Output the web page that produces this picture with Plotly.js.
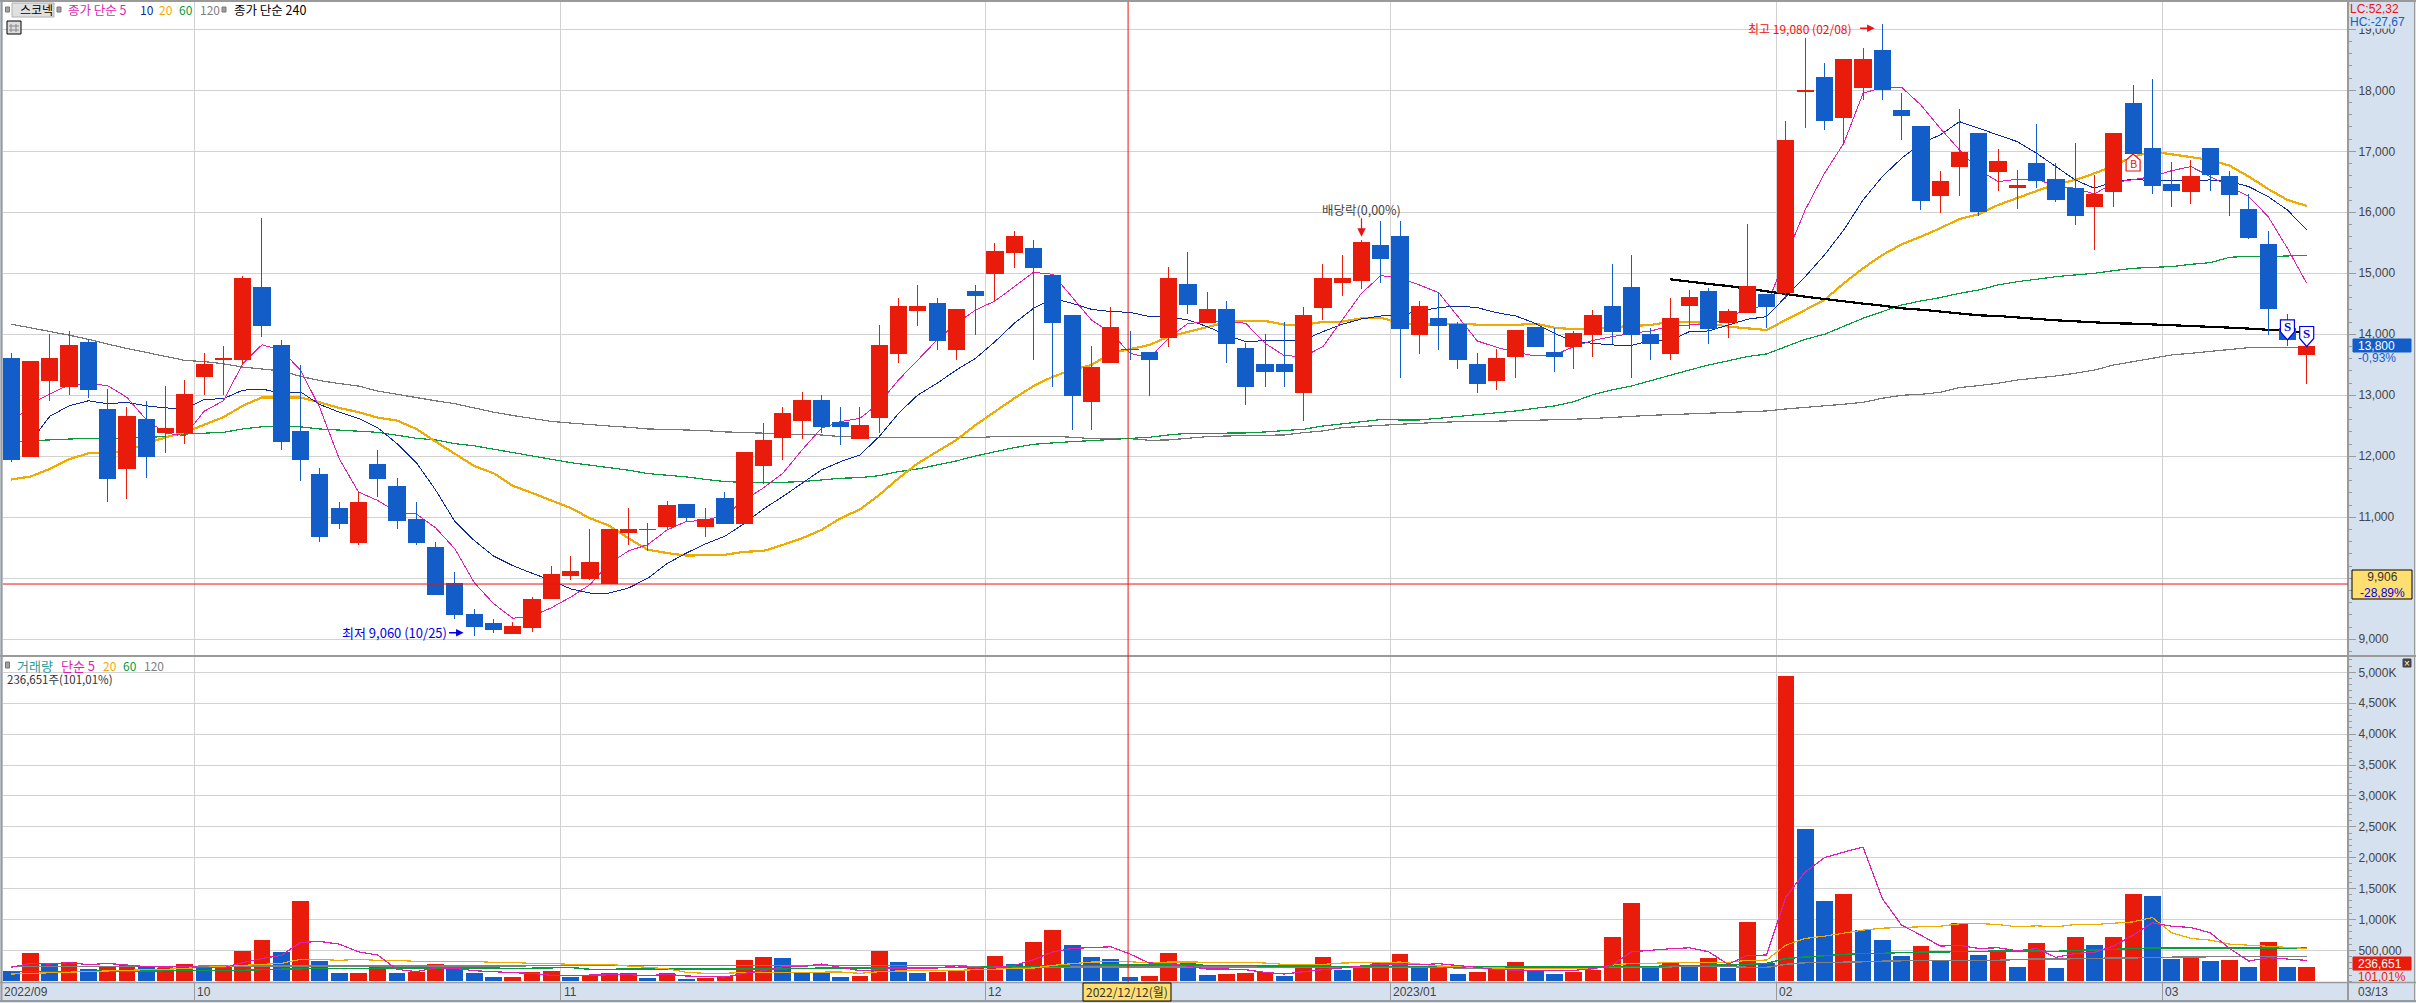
<!DOCTYPE html>
<html>
<head>
<meta charset="utf-8">
<script src="https://cdn.plot.ly/plotly-3.0.1.min.js"></script>
<style>html,body{margin:0;padding:0;background:#fff;overflow:hidden}#chart{width:2416px;height:1003px}
.scatterlayer .js-line,.boxlayer path,.barlayer path{shape-rendering:crispEdges}</style>
</head>
<body>
<div id="chart"></div>
<script>
// ---- candle data, one entry per trading day ----
const opens = [13600,12000,13240,13150,13860,12765,11800,12600,12385,12385,13300,13590,13585,14765,13815,12400,11700,11150,10590,11860,11500,10960,10500,9910,9400,9262,9103,9200,9675,10050,10000,9910,10752,10800,10855,11207,10855,11300,10900,11855,12300,12579,12907,12547,12284,12629,13678,14382,14497,13743,14694,14989,15333,15399,14956,14300,12891,13530,13754,13694,13940,14809,14186,14399,13760,13497,13497,13038,14432,14841,14890,15448,15596,13989,14251,14153,13497,13235,13628,14104,13694,13792,13989,14448,14759,14000,13678,14464,14694,14186,14350,14645,14678,17980,18202,17546,18054,18645,17677,17399,16268,16743,17300,16677,16399,16792,16530,16382,16087,16333,17776,17054,16448,16333,17054,16595,16038,15464,14100,13670];
const highs = [13690,13550,14000,14060,13930,13100,12810,12910,13160,13255,13690,13815,14950,15910,13900,13500,11800,11250,11410,12100,11640,11250,10590,10110,9490,9340,9290,9700,10207,10358,10814,10807,11160,10900,11260,11207,11160,11407,12062,12550,12810,13055,13005,12809,12809,14153,14596,14809,14596,14399,14809,15497,15694,15546,14956,14300,13809,14448,14055,13694,15104,15350,14694,14546,13863,14005,14197,14448,15153,15300,15546,15858,15858,14546,14688,14202,13694,13760,14055,14104,14104,14055,14398,15153,15300,14100,14596,14727,14759,14415,15809,14645,17497,18857,18448,18497,18694,19080,17956,17415,16677,17694,17300,17038,16694,17448,16803,17136,16612,17300,18087,18186,16825,16858,17054,16677,16300,15694,14340,13800];
const lows = [11900,12000,12900,13000,12950,11250,11300,11640,12050,12200,13000,13000,13490,13950,12100,11590,10590,10800,10540,11330,10800,10540,9720,9330,9060,9110,9090,9117,9675,9980,9965,9910,10545,10450,10807,10945,10670,10900,10900,11545,11945,12290,12377,12186,12284,12377,13530,14137,13743,13579,13989,14546,15087,13579,13137,12432,12432,13530,13579,12989,13792,14333,14186,13530,12842,13137,13137,12579,14235,14628,14743,14841,13284,13678,13743,13432,13038,13087,13284,13792,13383,13432,13633,13842,13290,13579,13579,14087,13842,13940,14350,14104,14579,17382,17350,17120,17841,17841,17186,16038,15989,16268,15940,16350,16054,16393,16170,15792,15382,16087,16956,16300,16087,16136,16350,15940,15563,13989,13810,13186];
const closes = [11950,13550,13600,13810,13100,11640,12650,12000,12455,13015,13500,13600,14910,14150,12250,11950,10690,10900,11250,11640,10950,10590,9740,9400,9213,9165,9207,9655,10060,10110,10255,10807,10807,10807,11200,10993,10960,10900,12062,12255,12700,12907,12481,12481,12497,13809,14448,14448,13891,14399,14628,15350,15596,15087,14186,12989,13448,14104,13743,13579,14907,14481,14399,13842,13137,13383,13383,14300,14907,14907,15497,15235,14087,14448,14137,13579,13186,13596,14055,13792,13628,14005,14300,14044,13989,13842,14251,14596,14087,14366,14776,14448,17169,17989,17513,18497,18513,18021,17579,16186,16497,16973,16005,16825,16432,16514,16202,15940,16300,17300,16956,16432,16350,16595,16612,16300,15579,14415,13907,13800];

// ---- price moving averages ----
const ma5 = [12517,12862,13021,13172,13193,13159,12965,12600,12379,12338,12738,12910,13517,13828,13738,13414,12793,11965,11414,11276,11083,11055,10827,10483,9931,9586,9345,9379,9517,9690,9896,10241,10448,10552,10793,10931,10952,11034,11276,11483,11722,12104,12459,12568,12623,12869,13251,13579,13907,14180,14399,14546,14781,15016,14983,14617,14235,14027,13689,13607,13934,14180,14191,14213,14180,13852,13650,13634,13798,14235,14672,14962,14918,14809,14683,14290,13891,13787,13705,13645,13661,13798,13900,13962,14016,14055,14137,14153,14153,14262,14426,14464,15273,16038,16639,17131,17950,18049,18049,17759,17377,17022,16694,16503,16541,16541,16432,16393,16300,16486,16530,16585,16683,16749,16585,16421,16257,15929,15410,14836];
const ma10 = [null,12241,12655,12828,12910,12862,12883,12828,12793,12779,12931,12945,13083,13103,13034,13055,12848,12724,12621,12469,12207,11896,11448,10931,10621,10365,10207,10083,9965,9827,9758,9758,9841,10000,10241,10414,10565,10690,10896,11138,11339,11558,11776,11913,12022,12323,12705,13005,13197,13415,13607,13880,14180,14426,14590,14508,14410,14372,14361,14290,14290,14235,14126,13989,13880,13896,13896,13907,14044,14164,14251,14300,14317,14372,14437,14464,14437,14355,14300,14180,14016,13880,13852,13825,13820,13896,13896,14044,14055,14153,14246,14290,14617,14945,15300,15710,16202,16585,16885,17131,17268,17486,17377,17268,17158,16967,16749,16530,16393,16503,16541,16519,16519,16519,16530,16503,16421,16257,16038,15710];
const ma20 = [11620,11669,11793,11952,12048,12048,12090,12207,12310,12393,12517,12641,12828,12965,12965,12965,12883,12793,12724,12634,12586,12448,12241,12034,11841,11724,11517,11400,11276,11152,10986,10862,10655,10469,10414,10372,10379,10386,10434,10448,10547,10656,10793,10984,11131,11366,11640,11885,12077,12268,12514,12732,12951,13153,13306,13415,13497,13689,13760,13825,13962,14044,14126,14197,14224,14219,14158,14158,14202,14208,14262,14273,14180,14153,14169,14175,14158,14153,14153,14175,14109,14082,14098,14115,14137,14153,14208,14208,14180,14126,14098,14071,14235,14399,14563,14836,15082,15300,15475,15601,15738,15891,15967,16120,16240,16350,16459,16530,16639,16765,16912,16994,16951,16901,16858,16765,16585,16382,16202,16104];
const ma60 = [12241,12255,12276,12290,12296,12296,12296,12310,12324,12365,12379,12393,12448,12483,12483,12483,12448,12428,12407,12393,12345,12296,12269,12207,12172,12117,12055,12000,11945,11896,11855,11814,11772,11717,11690,11662,11621,11586,11572,11565,11574,11585,11612,11640,11650,11683,11749,11793,11858,11924,12006,12077,12142,12197,12224,12241,12257,12279,12290,12312,12350,12377,12377,12377,12383,12399,12415,12443,12497,12530,12568,12601,12596,12596,12623,12650,12678,12705,12743,12787,12825,12896,13010,13088,13153,13240,13333,13415,13497,13568,13634,13678,13798,13918,14000,14137,14262,14372,14481,14546,14601,14672,14727,14809,14863,14902,14945,14973,15000,15044,15082,15098,15109,15147,15175,15262,15279,15273,15284,15295];
const ma120 = [14166,14110,14048,13986,13917,13841,13766,13703,13634,13572,13552,13517,13462,13428,13400,13310,13241,13193,13152,13069,13014,12965,12910,12862,12793,12724,12669,12621,12572,12545,12517,12496,12476,12448,12441,12434,12421,12400,12393,12379,12365,12359,12350,12322,12312,12312,12312,12312,12312,12312,12306,12322,12328,12328,12328,12312,12290,12290,12290,12262,12268,12295,12322,12333,12339,12344,12350,12388,12415,12470,12492,12508,12525,12541,12557,12568,12568,12574,12585,12590,12601,12607,12620,12639,12650,12672,12683,12694,12705,12721,12732,12743,12776,12798,12825,12853,12885,12951,13000,13016,13049,13126,13159,13197,13251,13279,13317,13361,13415,13497,13552,13607,13661,13689,13716,13754,13781,13787,13787,13787];
const ma240Start = 86;
const ma240 = [14902,14858,14825,14792,14749,14694,14656,14617,14579,14535,14503,14470,14426,14404,14372,14339,14311,14300,14273,14246,14229,14213,14191,14180,14175,14164,14153,14142,14126,14109,14093,14071,14055,14016];

// ---- volume, thousands of shares; 1 = red bar, 0 = blue bar ----
const volume = [167,457,290,312,199,247,263,226,220,280,226,242,489,667,473,1296,328,134,134,247,134,156,280,231,134,70,70,150,167,70,97,134,134,54,134,38,54,86,344,392,376,140,140,75,91,495,317,140,156,177,226,414,285,640,833,591,398,366,75,91,462,301,108,124,140,156,91,237,398,188,237,317,446,220,237,124,156,204,317,172,124,156,188,715,1263,231,301,226,376,215,957,301,4941,2457,1296,1409,833,667,409,570,344,941,425,489,231,618,215,715,586,715,1409,1376,360,392,328,344,231,634,231,236.651];
const volumeUp = [0,1,0,1,0,1,1,0,1,1,0,1,1,1,0,1,0,0,1,1,0,1,1,0,0,0,1,1,1,0,1,1,1,0,1,0,1,1,1,1,0,0,0,0,1,1,0,0,1,1,1,1,0,1,1,0,0,0,0,1,1,0,0,1,1,1,0,1,1,0,1,1,1,0,1,0,1,1,1,0,0,1,1,1,1,0,1,0,1,0,1,0,1,0,0,1,0,0,0,1,0,1,0,1,0,1,0,1,0,1,1,0,0,1,0,1,0,1,0,1];
const vol5 = [226,290,280,301,269,290,263,237,231,237,226,220,301,371,419,629,645,602,478,425,194,156,220,210,172,151,140,129,97,97,97,108,108,91,113,86,75,70,129,172,237,237,280,226,172,188,215,215,215,253,215,231,258,349,478,532,543,559,441,296,290,242,199,199,188,145,118,156,188,215,247,280,280,269,285,258,226,188,177,177,177,177,204,263,478,505,527,543,478,274,419,425,1366,1769,2000,2091,2172,1339,909,747,570,581,532,543,495,532,387,452,468,575,747,946,892,871,785,532,328,382,360,339];
const vol20 = [118,129,145,156,167,172,183,188,194,210,226,237,258,274,290,355,355,339,355,339,339,323,323,323,323,306,306,290,290,274,274,274,247,226,204,145,129,129,145,145,145,145,150,150,129,156,167,167,167,177,188,199,210,215,258,280,312,317,317,296,312,312,312,312,306,296,274,274,274,296,296,306,312,280,247,242,221,215,215,210,210,204,199,263,290,290,306,306,306,306,339,344,586,694,731,785,828,860,866,882,892,930,935,919,882,898,882,919,919,946,962,1032,785,694,667,602,586,564,559,532];
const vol60 = [156,156,161,161,161,167,167,167,172,172,172,177,177,188,199,210,210,210,210,210,210,210,215,220,220,215,204,215,226,226,194,194,194,194,194,194,194,194,194,194,204,204,215,215,215,215,215,226,226,226,226,231,237,242,247,263,263,263,263,263,263,263,263,263,258,247,247,247,247,237,237,237,237,237,237,231,231,226,226,226,226,226,226,231,237,237,253,253,258,263,274,290,371,392,425,435,452,452,468,468,473,484,489,489,489,489,484,500,505,516,532,543,543,543,543,532,532,543,543,543];
const vol120 = [237,237,237,237,226,226,226,226,231,237,247,247,247,247,253,253,258,258,258,258,258,258,258,258,258,258,258,258,258,258,258,258,258,258,258,258,258,258,258,258,258,258,258,258,258,258,258,258,258,258,231,231,231,231,231,231,231,231,231,231,231,231,231,231,231,231,231,231,231,231,231,231,231,231,231,215,215,215,215,215,215,215,215,220,231,231,242,242,242,242,226,226,274,301,301,306,317,323,333,339,339,339,339,339,355,355,366,366,371,376,387,387,398,403,403,403,403,403,403,403];

// ---- axis labels ----
const priceTicks = [9000,10000,11000,12000,13000,14000,15000,16000,17000,18000,19000];
const priceTickText = ['9,000','10,000','11,000','12,000','13,000','14,000','15,000','16,000','17,000','18,000','19,000'];
const volumeTicks = [500,1000,1500,2000,2500,3000,3500,4000,4500,5000];
const volumeTickText = ['500,000','1,000K','1,500K','2,000K','2,500K','3,000K','3,500K','4,000K','4,500K','5,000K'];
const monthTicks = [9.5,28.5,50.5,71.5,91.5,111.5];
const monthLabels = ['10','11','12','2023/01','02','03'];
const crosshairDay = 57.9;
const crosshairPrice = 9906;

// ---- colours and page geometry ----
const RED='#e91b0b', BLUE='#125dc8', BAND='#d6e1ef', GRID='#d2d2d2', EDGE='#9a9a9a', YEL='#ffdf70';
const C5='#e01fb0', C10='#0b2aa0', C20='#f0ab00', C60='#0a9a40', C120='#808080';
const LAT='"Liberation Sans",sans-serif';
const KR='"Noto Sans CJK KR","Noto Sans",sans-serif';
const W=2416,H=1003,ML=3,MR=68,MT=2,MB=21;
const X=px=>(px-ML)/(W-ML-MR), Y=py=>(H-MB-py)/(H-MT-MB);
const idx=volume.map((_,i)=>i);

function line(y,color,width,yaxis,x){return {type:'scatter',mode:'lines',x:x||idx,y:y,yaxis:yaxis,xaxis:'x',
  line:{color:color,width:width,shape:'linear'},hoverinfo:'skip',showlegend:false,connectgaps:false};}

const traces=[
  line(ma120,'#777777',1.2,'y'),
  line(ma60,C60,1.2,'y'),
  line(ma20,C20,2.2,'y'),
  line(ma10,C10,1,'y'),
  line(ma5,C5,1,'y'),
  line(ma240,'#000000',2.2,'y',ma240.map((_,i)=>i+ma240Start)),
  {type:'candlestick',x:idx,open:opens,high:highs,low:lows,close:closes,xaxis:'x',yaxis:'y3',whiskerwidth:0,
   increasing:{line:{color:RED,width:1},fillcolor:RED},decreasing:{line:{color:BLUE,width:1},fillcolor:BLUE},
   hoverinfo:'skip',showlegend:false},
  {type:'bar',x:idx,y:volume,xaxis:'x',yaxis:'y2',width:0.87,marker:{color:volumeUp.map(u=>u?RED:BLUE),line:{width:0}},hoverinfo:'skip',showlegend:false},
  line(vol120,C120,1.5,'y2'),
  line(vol60,C60,1.5,'y2'),
  line(vol20,C20,1.2,'y2'),
  line(vol5,C5,1.2,'y2')
];

// ---- texts ----
function label(px,py,text,color,size,extra){return Object.assign({xref:'paper',yref:'paper',x:X(px),y:Y(py),text:text,showarrow:false,
  xanchor:'left',yanchor:'middle',borderpad:0,align:'left',font:{family:KR,size:size||12,color:color}},extra||{});}
function lat(px,py,text,color,extra){return label(px,py,text,color,12,Object.assign({font:{family:LAT,size:12,color:color}},extra||{}));}
const anns=[
  label(19,10,'스코넥','#000',12),
  label(67,10,'종가 단순 5',C5,12.5),label(139,10,'10',C10,12),label(158,10,'20',C20,12),label(178,10,'60',C60,12),label(199,10,'120',C120,12),
  label(233,10,'종가 단순 240','#000',12.5),
  label(16,665,'거래량','#2a9a98',13),label(60,665,'단순 5',C5,13),label(102,665,'20',C20,12),label(122,665,'60',C60,12),label(143,665,'120',C120,12),
  label(6,679,'236,651주(101,01%)','#333',11.5),
  lat(3,992,'2022/09','#444'),
  lat(2349,9,'LC:52,32','#ee1111',{bgcolor:BAND,width:60,height:12}),
  lat(2349,21,'HC:-27,67',BLUE,{bgcolor:BAND,width:62,height:13}),
  lat(2357,345.5,'13,800','#fff'),
  lat(2357,358,'-0,93%',BLUE),
  lat(2382,584.5,'9,906<br><span style="color:#0000ee">-28,89%</span>','#333',{xanchor:'center',align:'center'}),
  lat(2357,963.5,'236,651','#fff'),
  lat(2357,977,'101,01%',RED),
  lat(2357,992,'03/13','#444'),
  lat(1127,992,'2022/12/12(월)','#333',{xanchor:'center',font:{family:KR,size:12,color:'#333'}}),
  lat(2407,663,'×','#fff',{xanchor:'center',font:{family:LAT,size:10,color:'#fff'}}),
  // high, low and dividend call-outs sit on the data scale
  {xref:'x',yref:'y',x:95.55,y:19017,text:'최고 19,080 (02/08)',showarrow:false,xanchor:'right',yanchor:'middle',font:{family:KR,size:12,color:'#ee1111'}},
  {xref:'x',yref:'y',x:96.6,y:19017,text:'',showarrow:true,ax:-16,ay:0,arrowcolor:'#ee1111',arrowwidth:1.5,arrowhead:2,arrowsize:1},
  {xref:'x',yref:'y',x:22.7,y:9107,text:'최저 9,060 (10/25)',showarrow:false,xanchor:'right',yanchor:'middle',font:{family:KR,size:13,color:'#0000ee'}},
  {xref:'x',yref:'y',x:23.45,y:9107,text:'',showarrow:true,ax:-16,ay:0,arrowcolor:'#0000ee',arrowwidth:1.5,arrowhead:2,arrowsize:1},
  {xref:'x',yref:'y',x:70,y:16050,text:'배당락(0,00%)',showarrow:false,xanchor:'center',yanchor:'middle',font:{family:KR,size:12.5,color:'#444'}},
  {xref:'x',yref:'y',x:70,y:15600,text:'',showarrow:true,ax:0,ay:-20,arrowcolor:'#ee1111',arrowwidth:1.2,arrowhead:2,arrowsize:1.4},
  {xref:'x',yref:'y',x:110,y:16956,yshift:-9,text:'B',showarrow:false,font:{family:KR,size:11,color:'#ee1111'}},
  {xref:'x',yref:'y',x:118,y:13907,yshift:13,text:'<b>S</b>',showarrow:false,font:{family:'"Liberation Serif",serif',size:13,color:'#0000ee'}},
  {xref:'x',yref:'y',x:119,y:13800,yshift:13,text:'<b>S</b>',showarrow:false,font:{family:'"Liberation Serif",serif',size:13,color:'#0000ee'}}
];
monthTicks.forEach((m,i)=>anns.push({xref:'x',yref:'paper',x:m,y:Y(992),text:monthLabels[i],showarrow:false,xanchor:'left',yanchor:'middle',xshift:1,font:{family:LAT,size:12,color:'#444'}}));

// ---- frame, crosshair, small icons, trade-signal badges ----
const edge=(x0,y0,x1,y1,c,w)=>({type:'line',xref:'paper',yref:'paper',x0:X(x0),y0:Y(y0),x1:X(x1),y1:Y(y1),line:{color:c||EDGE,width:w||1},layer:'above'});
const box=(x0,y0,x1,y1,fill,c)=>({type:'rect',xref:'paper',yref:'paper',x0:X(x0),y0:Y(y0),x1:X(x1),y1:Y(y1),fillcolor:fill,line:{color:c,width:1},layer:'above'});
const badge=(day,price,path,c)=>({type:'path',xref:'x',yref:'y',xsizemode:'pixel',ysizemode:'pixel',xanchor:day,yanchor:price,path:path,fillcolor:'#fff',line:{color:c,width:1.2},layer:'above'});
const shapes=[
  edge(0,1,W,1,EDGE,2), edge(1.5,1,1.5,1001,EDGE,2), edge(0,656,2416,656,EDGE,2),
  edge(0,982.5,2416,982.5,EDGE,1.5), edge(0,1001,2416,1001,EDGE,2),
  edge(2348,1,2348,1001,EDGE,2), edge(2414.5,1,2414.5,1001,EDGE,1),
  {type:'line',xref:'x',yref:'paper',x0:crosshairDay,x1:crosshairDay,y0:0,y1:1,line:{color:'#ee1111',width:1},layer:'above'},
  {type:'line',xref:'paper',yref:'y',x0:0,x1:1,y0:crosshairPrice,y1:crosshairPrice,line:{color:'#ee1111',width:1},layer:'above'},
  box(12,3,54,17,'#e0e0e0','#b0b0b0'),
  box(5.5,7,9.5,12,'#a0a0a0','#777'), box(57,7,61,12,'#a0a0a0','#777'), box(222,7,226,12,'#a0a0a0','#777'),
  box(5.5,662,9.5,668,'#a0a0a0','#777'),
  box(7,21,21,34,'#dddddd','#000'), edge(11,24,11,32,'#888'), edge(16,24,16,32,'#888'), edge(9,26,19,26,'#888'), edge(9,30,19,30,'#888'),
  box(2353,339,2411,352,BLUE,BLUE),
  box(2352,570,2412,599,YEL,'#000'),
  box(2353,957,2411,970,RED,RED),
  box(1083,983,1171,1001,YEL,'#000'),
  box(2403,659,2411,667,'#444','#444'),
  badge(110,16956,'M 0 0 L -7 -6 L -7 -17 L 7 -17 L 7 -6 Z','#ee1111'),
  badge(118,13907,'M 0 0 L -7 8 L -7 20 L 7 20 L 7 8 Z','#0000ee'),
  badge(119,13800,'M 0 0 L -7 8 L -7 20 L 7 20 L 7 8 Z','#0000ee')
];

const layout={
  width:W,height:H,margin:{l:ML,r:MR,t:MT,b:MB,pad:0},paper_bgcolor:BAND,plot_bgcolor:'#fff',showlegend:false,hovermode:false,
  boxgap:0.16,boxgroupgap:0,bargap:0.13,dragmode:false,
  xaxis:{anchor:'y2',domain:[0,1],range:[-0.425,121.14],fixedrange:true,tickmode:'array',tickvals:monthTicks,ticktext:monthLabels.map(()=>''),
    ticks:'outside',ticklen:19,tickcolor:EDGE,tickwidth:1,showgrid:true,gridcolor:GRID,gridwidth:1,zeroline:false,showline:false,rangeslider:{visible:false}},
  yaxis:{domain:[0.33265,1],range:[8726,19447.5],side:'right',anchor:'x',fixedrange:true,tickmode:'array',tickvals:priceTicks,ticktext:priceTickText,
    ticks:'outside',ticklen:7,tickcolor:EDGE,tickwidth:1,showgrid:true,gridcolor:GRID,gridwidth:1,zeroline:false,showline:false,
    tickfont:{family:LAT,size:12,color:'#444'},minor:{tickmode:'linear',dtick:200,tick0:0,ticks:'outside',ticklen:3,tickcolor:EDGE,showgrid:false}},
  yaxis3:{overlaying:'y',range:[8726,19447.5],side:'right',anchor:'x',visible:false,fixedrange:true,showgrid:false,zeroline:false},
  yaxis2:{domain:[0,0.33265],range:[-11,5264],side:'right',anchor:'x',fixedrange:true,tickmode:'array',tickvals:volumeTicks,ticktext:volumeTickText,
    ticks:'outside',ticklen:7,tickcolor:EDGE,tickwidth:1,showgrid:true,gridcolor:GRID,gridwidth:1,zeroline:false,showline:false,
    tickfont:{family:LAT,size:12,color:'#444'},minor:{tickmode:'linear',dtick:100,tick0:0,ticks:'outside',ticklen:3,tickcolor:EDGE,showgrid:false}},
  annotations:anns,shapes:shapes
};
Plotly.newPlot('chart',traces,layout,{displayModeBar:false,staticPlot:true,responsive:false});
</script>
</body>
</html>
